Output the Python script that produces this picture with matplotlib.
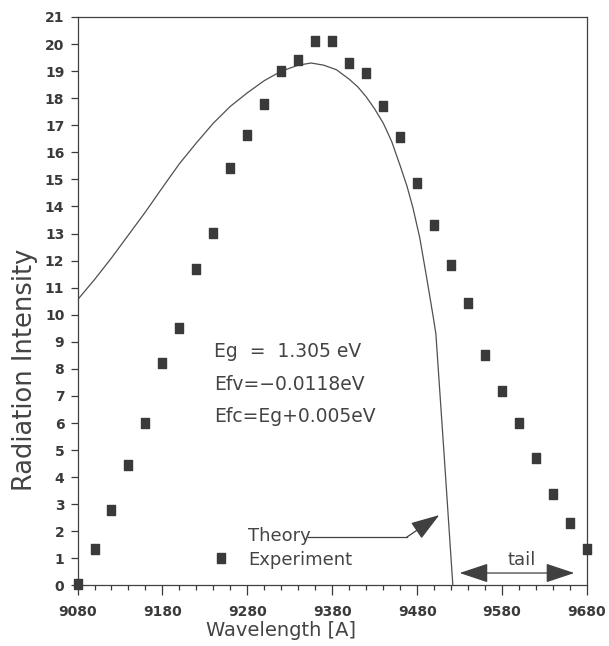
import numpy as np
import matplotlib
matplotlib.use("Agg")
import matplotlib.pyplot as plt
from matplotlib.lines import Line2D
from matplotlib.path import Path

# measured points (wavelength in A, intensity)
exp_wl = [9080, 9100, 9120, 9140, 9160, 9180, 9200, 9220, 9240, 9260, 9280,
          9300, 9320, 9340, 9360, 9380, 9400, 9420, 9440, 9460, 9480,
          9500, 9520, 9540, 9560, 9580, 9600, 9620, 9640, 9660, 9680]
exp_int = [0.05, 1.35, 2.8, 4.45, 6.02, 8.2, 9.52, 11.7, 13.02, 15.42, 16.65,
           17.8, 19.0, 19.4, 20.1, 20.1, 19.3, 18.93, 17.72, 16.55, 14.86,
           13.3, 11.85, 10.45, 8.5, 7.2, 6.0, 4.7, 3.38, 2.3, 1.35]

# theory curve
th_wl = [9080, 9100, 9120, 9140, 9160, 9180, 9200, 9220, 9240, 9260, 9280,
         9300, 9320, 9340, 9355, 9370, 9385, 9400, 9410, 9420, 9430, 9440,
         9450, 9460, 9468, 9475, 9483, 9491, 9499, 9502, 9512, 9522]
th_int = [10.55, 11.3, 12.1, 12.95, 13.8, 14.7, 15.58, 16.35, 17.08, 17.7, 18.2,
          18.65, 19.0, 19.22, 19.3, 19.22, 19.05, 18.7, 18.42, 18.05, 17.6, 17.08,
          16.4, 15.5, 14.75, 13.95, 12.85, 11.4, 9.9, 9.3, 4.7, 0.0]

params = ["Eg  =  1.305 eV", "Efv=\u22120.0118eV", "Efc=Eg+0.005eV"]
xmajor = [9080, 9180, 9280, 9380, 9480, 9580, 9680]
ylabels = list(range(0, 22))

ink = "#3a3a3a"
txt = "#444444"
plt.rcParams['font.family'] = ['DejaVu Sans']

# slightly tall rectangle marker, like the plotter squares
box = Path([(-0.42, -0.5), (0.42, -0.5), (0.42, 0.5), (-0.42, 0.5), (-0.42, -0.5)],
           [Path.MOVETO, Path.LINETO, Path.LINETO, Path.LINETO, Path.CLOSEPOLY])

fig = plt.figure(figsize=(6.09, 6.46), dpi=100)
ax = fig.add_axes([0.1273, 0.0937, 0.8366, 0.8800])

ax.plot(th_wl, th_int, color="#505050", linewidth=0.9)
ax.plot(exp_wl, exp_int, linestyle="none", marker=box, markersize=7.5,
        color=ink, clip_on=False, zorder=5)

ax.set_xlim(9080, 9680)
ax.set_ylim(0, 21)
ax.set_xticks(xmajor)
ax.set_xticks(np.arange(xmajor[0], xmajor[-1] + 1, 20), minor=True)
ax.set_yticks(ylabels)

for s in ax.spines.values():
    s.set_color("#404040")
    s.set_linewidth(0.9)

ax.tick_params(axis="x", which="major", direction="out", length=7, width=0.9,
               pad=7, colors=ink, labelsize=10)
ax.tick_params(axis="x", which="minor", direction="out", length=3.5, width=0.9,
               colors=ink)
ax.tick_params(axis="y", direction="out", length=5, width=0.9, pad=4.5,
               colors=ink, labelsize=10)
for lab in ax.get_xticklabels() + ax.get_yticklabels():
    lab.set_fontweight("bold")

ax.set_xlabel("Wavelength [A]", fontsize=14, color=txt, va="center")
ax.xaxis.set_label_coords(0.399, -0.08)
ax.set_ylabel("Radiation Intensity", fontsize=18.5, color=txt, va="center")
ax.yaxis.set_label_coords(-0.103, 0.38)

# parameter text
for i, t in enumerate(params):
    ax.text(9241, 8.63 - i * 1.19, t, fontsize=13.5, color=txt, va="center")

# legend
h_th = Line2D([], [], linestyle="none")
h_ex = Line2D([], [], linestyle="none", marker=box, markersize=7.5, color=ink)
leg = ax.legend([h_th, h_ex], ["Theory", "Experiment"], loc="upper left",
                bbox_to_anchor=(0.264, 0.103), frameon=False, fontsize=13,
                handlelength=1.0, handletextpad=1.0, borderpad=0,
                borderaxespad=0, labelspacing=0.32, labelcolor=txt)

# theory pointer
ax.plot([9352, 9468], [1.79, 1.79], color="#404040", linewidth=0.9)
ax.annotate("", xy=(9506, 2.6), xytext=(9468, 1.79),
            arrowprops=dict(arrowstyle="-|>,head_length=0.9,head_width=0.3",
                            mutation_scale=20, color="#404040", lw=0.9,
                            shrinkA=0, shrinkB=0))

# tail marker
ax.annotate("", xy=(9530, 0.46), xytext=(9665, 0.46),
            arrowprops=dict(arrowstyle="<|-|>,head_length=0.9,head_width=0.3",
                            mutation_scale=20, color="#404040", lw=0.9,
                            shrinkA=0, shrinkB=0))
ax.text(9603, 0.94, "tail", fontsize=13, color=txt, ha="center", va="center")

fig.savefig("out.png", dpi=100)
